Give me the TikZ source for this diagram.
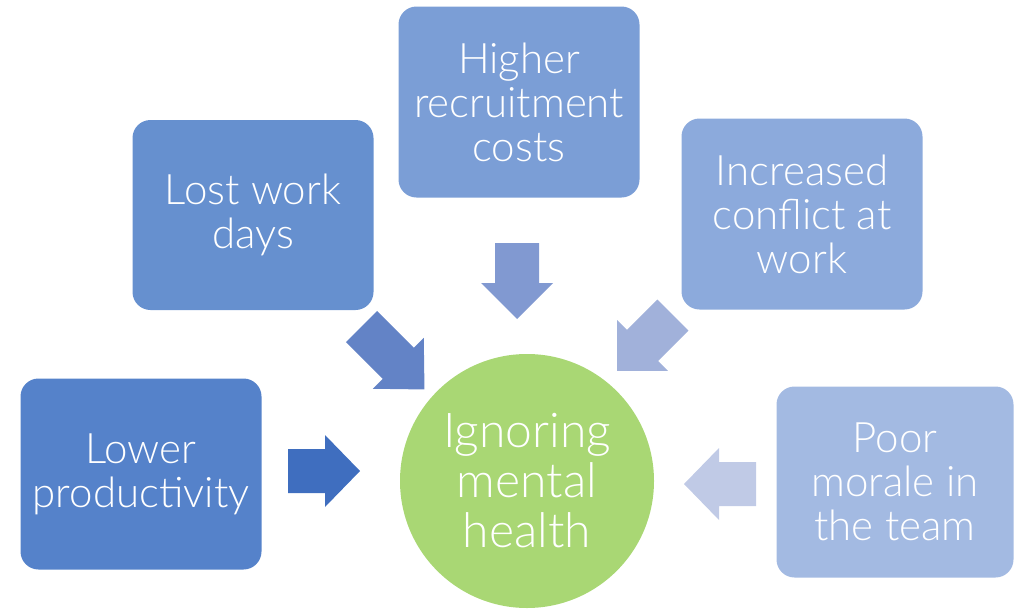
\documentclass[tikz,border=0pt]{standalone}
\usepackage{fontspec}
\setmainfont{Lato Light}
\usetikzlibrary{positioning}

\definecolor{boxA}{HTML}{5582CA}
\definecolor{boxB}{HTML}{6690CF}
\definecolor{boxC}{HTML}{7B9ED6}
\definecolor{boxD}{HTML}{8CAADC}
\definecolor{boxE}{HTML}{A3BAE2}
\definecolor{hub}{HTML}{A9D774}
\definecolor{arrA}{HTML}{3F6EBF}
\definecolor{arrB}{HTML}{6383C6}
\definecolor{arrC}{HTML}{8199D1}
\definecolor{arrD}{HTML}{A1B1DA}
\definecolor{arrE}{HTML}{C0CAE6}

\tikzset{%
    cause/.style={%
        rectangle, rounded corners=18pt, inner sep=0pt, text=white,
        minimum width=241pt, minimum height=191pt, align=center,
        font=\fontsize{42}{44}\selectfont
    },
    hubnode/.style={%
        circle, fill=hub, inner sep=0pt, minimum size=254pt, text=white,
        align=center, font=\fontsize{48}{50}\selectfont
    },
    % block arrow: total length #1, head length #2
    pics/blockarrow/.style 2 args={%
        code={%
            \fill (-#1/2,-22) -- (#1/2-#2,-22) -- (#1/2-#2,-36) -- (#1/2,0)
                -- (#1/2-#2,36) -- (#1/2-#2,22) -- (-#1/2,22) -- cycle;
        }
    }
}

\begin{document}
\begin{tikzpicture}[x=1pt,y=-1pt]
\useasboundingbox (0,0) rectangle (1015,608);

\node[hubnode] (H) at (527,481) {Ignoring\\mental\\health};

\node[cause, fill=boxA] (C1) at (141,474) {Lower\\productivity};
\node[cause, fill=boxB, minimum height=190pt] (C2) at (253,215) {Lost work\\days};
\node[cause, fill=boxC] (C3) at (519,102) {Higher\\recruitment\\costs};
\node[cause, fill=boxD] (C4) at (802,214) {Increased\\conflict at\\work};
\node[cause, fill=boxE, minimum width=237pt] (C5) at (895,482) {Poor\\morale in\\the team};

% arrows towards the hub
\pic[fill=arrA] at (324,471) {blockarrow={72}{35}};
\pic[fill=arrB, rotate=-45] at (393,358) {blockarrow={89}{37}};
\pic[fill=arrC, rotate=-90] at (517,281) {blockarrow={76}{36}};
\pic[fill=arrD, rotate=-135] at (645,343) {blockarrow={79}{36}};
\pic[fill=arrE, rotate=180] at (720,484) {blockarrow={72}{35}};
\end{tikzpicture}
\end{document}
